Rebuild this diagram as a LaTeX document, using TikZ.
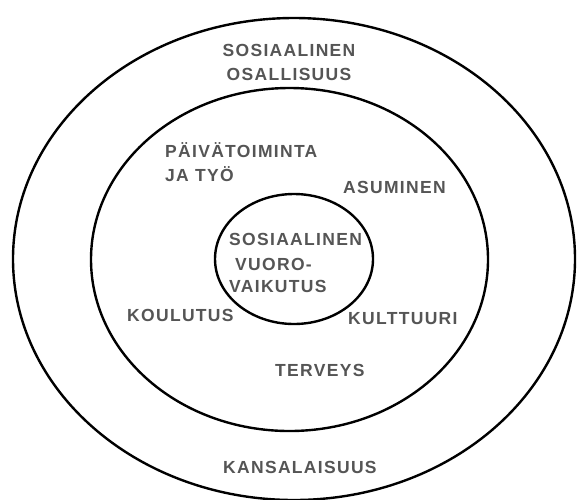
\documentclass[tikz,border=0pt]{standalone}
\usepackage{fontspec}
\newfontfamily\lblfont{Liberation Sans}[LetterSpace=7.5]
\usetikzlibrary{shapes.geometric}
\definecolor{txtgray}{HTML}{555555}
\tikzset{
  ring/.style={draw=black, line width=2.4pt, ellipse, inner sep=0pt, fill=none},
  lbl/.style={inner sep=0pt, text=txtgray, font=\lblfont\bfseries\fontsize{17.5}{24}\selectfont},
}
\begin{document}
\begin{tikzpicture}[x=1pt,y=-1pt]
\useasboundingbox (0,0) rectangle (577,499);
\fill[white] (0,0) rectangle (577,499);
\node[ring, minimum width=562pt, minimum height=482pt] (outer) at (294,259) {};
\node[ring, minimum width=397pt, minimum height=343pt] (middle) at (289.5,259.5) {};
\node[ring, minimum width=158pt, minimum height=130pt] (inner) at (294,259) {};
\node[lbl, anchor=base] (so1) at (289,56) {SOSIAALINEN};
\node[lbl, anchor=base] (so2) at (289,80) {OSALLISUUS};
\node[lbl, anchor=base west] (pa1) at (165,157) {PÄIVÄTOIMINTA};
\node[lbl, anchor=base west] (pa2) at (165,181) {JA TYÖ};
\node[lbl, anchor=base west] (asu) at (343,193) {ASUMINEN};
\node[lbl, anchor=base west] (sv1) at (229,245) {SOSIAALINEN};
\node[lbl, anchor=base west] (sv2) at (235,270) {VUORO-};
\node[lbl, anchor=base west] (sv3) at (229,292) {VAIKUTUS};
\node[lbl, anchor=base west] (kou) at (127,321) {KOULUTUS};
\node[lbl, anchor=base west] (kul) at (348,324) {KULTTUURI};
\node[lbl, anchor=base west] (ter) at (275,376) {TERVEYS};
\node[lbl, anchor=base west] (kan) at (223,473) {KANSALAISUUS};
\end{tikzpicture}
\end{document}
